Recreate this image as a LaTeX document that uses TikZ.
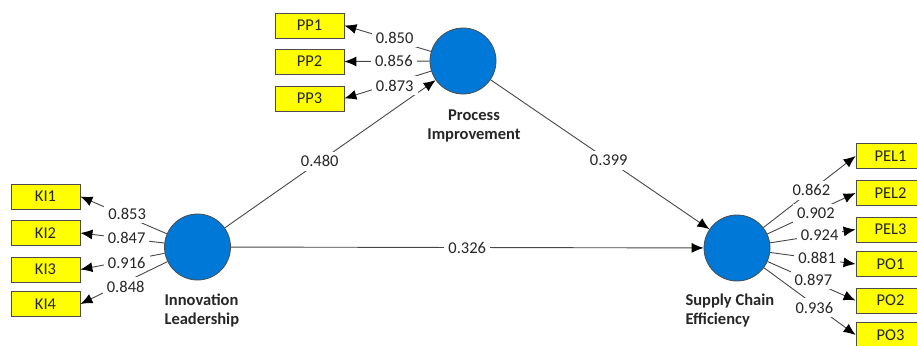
\documentclass[tikz,border=0pt]{standalone}
\usepackage{fontspec}
\setmainfont{Carlito}
\usetikzlibrary{arrows.meta}

\begin{document}
\begin{tikzpicture}[x=1pt,y=-1pt,
  every node/.style={font=\fontsize{16.5}{19}\selectfont,text=black!85},
  latent/.style={circle,draw=black!70,fill=lvblue,line width=0.8pt,minimum size=66pt,inner sep=0pt},
  indicator/.style={rectangle,draw=black!70,fill=indyellow,line width=0.8pt,minimum width=69pt,minimum height=25pt,inner sep=0pt},
  path/.style={draw=black!72,line width=0.9pt,-{Latex[length=12pt,width=10pt,black]}},
  value/.style={fill=white,inner sep=4pt},
  lvname/.style={font=\fontsize{16.5}{19}\selectfont\bfseries}]
% Define colours
\definecolor{lvblue}{RGB}{0,120,215}
\definecolor{indyellow}{RGB}{255,255,0}

\useasboundingbox (0,0) rectangle (917,345);
\clip (0,0) rectangle (917,345);

% Draw latent variables
\node[latent] (PI) at (463,61) {};
\node[latent] (IL) at (197.5,247) {};
\node[latent] (SCE) at (737,248) {};

% Add latent variable names
\node[lvname,align=center] (PIname) at (474,125.5) {Process\\Improvement};
\node[lvname,align=left,anchor=west] (ILname) at (161,310) {Innovation\\Leadership};
\node[lvname,align=left,anchor=west] (SCEname) at (682,310.5) {Supply Chain\\Efficiency};

% Draw indicators
\node[indicator] (PP1) at (309.5,25.5) {PP1};
\node[indicator] (PP2) at (309.5,61.5) {PP2};
\node[indicator] (PP3) at (309.5,98.5) {PP3};

\node[indicator] (KI1) at (45.5,196.5) {KI1};
\node[indicator] (KI2) at (45.5,233) {KI2};
\node[indicator] (KI3) at (45.5,269.5) {KI3};
\node[indicator] (KI4) at (45.5,304) {KI4};

\node[indicator] (PEL1) at (890.5,156) {PEL1};
\node[indicator] (PEL2) at (890.5,193) {PEL2};
\node[indicator] (PEL3) at (890.5,229.5) {PEL3};
\node[indicator] (PO1) at (890.5,264) {PO1};
\node[indicator] (PO2) at (890.5,300.5) {PO2};
\node[indicator] (PO3) at (890.5,335) {PO3};

% Add structural paths
\draw[path] (IL) -- (PI) node[value,pos=0.45] {0.480};
\draw[path] (PI) -- (SCE) node[value,pos=0.54] {0.399};
\draw[path] (IL) -- (SCE) node[value,midway] {0.326};

% Add outer loadings
\draw[path] (PI) -- (PP1.east) node[value,pos=0.42,yshift=3pt] {0.850};
\draw[path] (PI) -- (PP2.east) node[value,pos=0.42] {0.856};
\draw[path] (PI) -- (PP3.east) node[value,pos=0.42,yshift=-3pt] {0.873};

\draw[path] (IL) -- (KI1.east) node[value,pos=0.46,yshift=3pt] {0.853};
\draw[path] (IL) -- (KI2.east) node[value,pos=0.45,yshift=1pt] {0.847};
\draw[path] (IL) -- (KI3.east) node[value,pos=0.45,yshift=-2pt] {0.916};
\draw[path] (IL) -- (KI4.east) node[value,pos=0.48,yshift=-5pt] {0.848};

\draw[path] (SCE) -- (PEL1.west) node[value,pos=0.52] {0.862};
\draw[path] (SCE) -- (PEL2.west) node[value,pos=0.55,yshift=-2pt] {0.902};
\draw[path] (SCE) -- (PEL3.west) node[value,pos=0.58] {0.924};
\draw[path] (SCE) -- (PO1.west) node[value,pos=0.55,yshift=1pt] {0.881};
\draw[path] (SCE) -- (PO2.west) node[value,pos=0.52,yshift=2pt] {0.897};
\draw[path] (SCE) -- (PO3.west) node[value,pos=0.55,yshift=-3pt] {0.936};
\end{tikzpicture}
\end{document}
